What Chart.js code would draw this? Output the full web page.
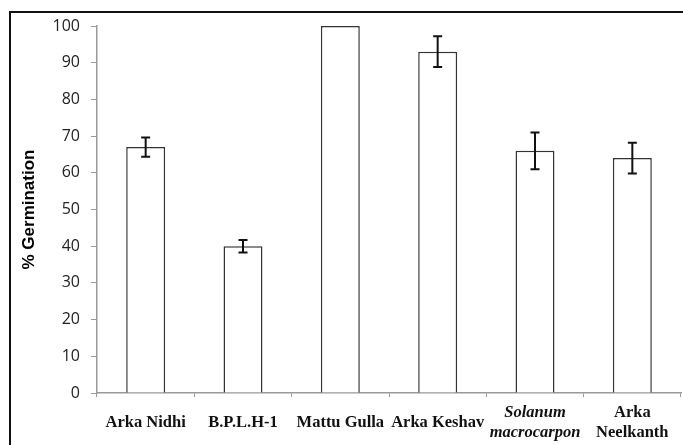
<!DOCTYPE html>
<html>
<head>
<meta charset="utf-8">
<script src="https://cdn.jsdelivr.net/npm/chart.js@4/dist/chart.umd.min.js"></script>
<style>
  html, body { margin: 0; padding: 0; background: #fff; overflow: hidden; }
  #wrap { position: relative; width: 683px; height: 445px; }
  #frame {
    position: absolute; left: 9px; top: 11px; width: 700px; height: 460px;
    border: 2px solid #111; box-sizing: border-box; pointer-events: none;
  }
</style>
</head>
<body>
<div id="wrap">
  <canvas id="chart" width="683" height="445"></canvas>
  <div id="frame"></div>
</div>
<script>
const categories = [
  "Arka Nidhi",
  "B.P.L.H-1",
  "Mattu Gulla",
  "Arka Keshav",
  ["Solanum", "macrocarpon"],
  ["Arka", "Neelkanth"],
];
const germination = [67, 40, 100, 93, 66, 64];
const errors = [2.6, 1.7, 0, 4.2, 5, 4.2];
const yTicks = [0, 10, 20, 30, 40, 50, 60, 70, 80, 90, 100];

// draws the +/- error whiskers on top of each bar
const errorBars = {
  id: "errorBars",
  afterDatasetsDraw(chart) {
    const ctx = chart.ctx;
    const x = chart.scales.x;
    const y = chart.scales.y;
    ctx.save();
    ctx.strokeStyle = "#111";
    ctx.lineWidth = 2;
    germination.forEach((v, i) => {
      if (!errors[i]) return;
      const px = x.getPixelForValue(i);
      const top = y.getPixelForValue(v + errors[i]);
      const bottom = y.getPixelForValue(v - errors[i]);
      ctx.beginPath();
      ctx.moveTo(px, top);
      ctx.lineTo(px, bottom);
      ctx.moveTo(px - 4.5, top);
      ctx.lineTo(px + 4.5, top);
      ctx.moveTo(px - 4.5, bottom);
      ctx.lineTo(px + 4.5, bottom);
      ctx.stroke();
    });
    ctx.restore();
  },
};

new Chart(document.getElementById("chart"), {
  type: "bar",
  data: {
    labels: categories,
    datasets: [
      {
        data: germination,
        backgroundColor: "#ffffff",
        borderColor: "#333",
        borderWidth: 1.5,
        categoryPercentage: 1,
        barPercentage: 0.4,
      },
    ],
  },
  options: {
    responsive: false,
    animation: false,
    layout: { padding: { top: 26, right: 2, left: 0, bottom: 0 } },
    plugins: {
      legend: { display: false },
      tooltip: { enabled: false },
    },
    scales: {
      x: {
        afterFit: (scale) => {
          scale.height = 52;
          // labels may overhang the edges, keep the plot width fixed
          scale.paddingLeft = 0;
          scale.paddingRight = 0;
        },
        grid: {
          offset: true,
          drawOnChartArea: false,
          drawTicks: true,
          tickLength: 4,
          color: "#999",
        },
        border: { color: "#999", width: 1.5 },
        ticks: {
          color: "#111",
          padding: 16,
          crossAlign: "center",
          autoSkip: false,
          maxRotation: 0,
          minRotation: 0,
          font: (ctx) => ({
            family: "'Liberation Serif', 'Times New Roman', serif",
            size: 16.5,
            weight: "bold",
            style: ctx.index === 4 ? "italic" : "normal",
            lineHeight: 1.2,
          }),
        },
      },
      y: {
        min: 0,
        max: 100,
        afterFit: (scale) => { scale.width = 97; },
        afterBuildTicks: (scale) => {
          scale.ticks = yTicks.map((v) => ({ value: v }));
        },
        grid: {
          drawOnChartArea: false,
          drawTicks: true,
          tickLength: 6,
          color: "#999",
        },
        border: { color: "#999", width: 1.5 },
        ticks: {
          color: "#222",
          padding: 11,
          font: { family: "'Open Sans', sans-serif", size: 16, weight: "500" },
        },
        title: {
          display: true,
          text: "% Germination",
          color: "#000",
          padding: { top: 19, bottom: 0 },
          font: { family: "'Liberation Sans', Arial, sans-serif", size: 17, weight: "bold" },
        },
      },
    },
  },
  plugins: [errorBars],
});
</script>
</body>
</html>
